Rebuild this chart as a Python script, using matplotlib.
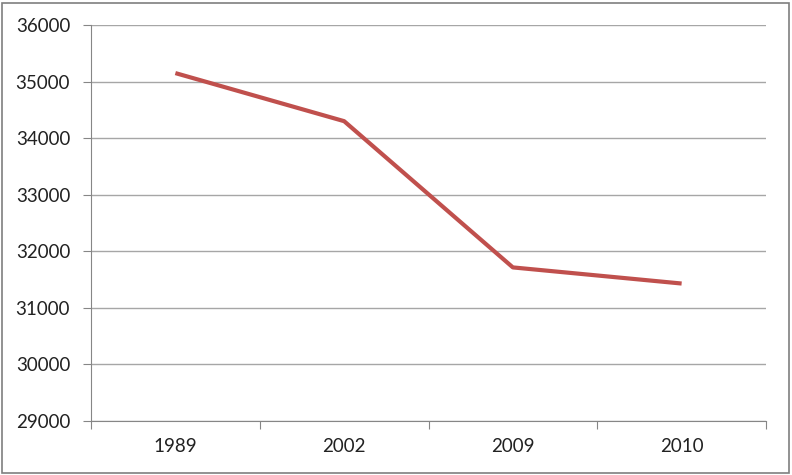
import matplotlib
matplotlib.use("Agg")
import matplotlib.pyplot as plt
import numpy as np
from matplotlib.patches import Rectangle

years = ["1989", "2002", "2009", "2010"]
values = [35150, 34300, 31715, 31430]

plt.rcParams['font.family'] = ['Lato', 'DejaVu Sans']

fig = plt.figure(figsize=(7.92, 4.75), dpi=100)
ax = fig.add_axes([91/792, 1 - 421/475, (766-91)/792, (421-25)/475])

x = np.arange(len(years))
ax.plot(x, values, color='#C0504D', linewidth=3, solid_capstyle='butt', zorder=3)

ax.set_xlim(-0.5, len(years) - 0.5)
ax.set_ylim(29000, 36000)
ax.set_yticks(np.arange(29000, 36001, 1000))
ax.yaxis.grid(True, color='#A6A6A6', linewidth=1)
ax.set_axisbelow(True)

# category labels centred, ticks between categories like a spreadsheet chart
ax.set_xticks(np.arange(-0.5, len(years)), minor=False)
ax.set_xticklabels([])
ax.set_xticks(x, minor=True)
ax.set_xticklabels(years, minor=True)
ax.tick_params(axis='x', which='major', length=6, color='#868686')
ax.tick_params(axis='x', which='minor', length=0, pad=12)
ax.tick_params(axis='y', length=6, color='#868686', pad=9)
ax.tick_params(which='both', labelsize=13.5, labelcolor='#222222')

ax.spines["top"].set_visible(False)
ax.spines["right"].set_visible(False)
ax.spines["left"].set_color('#868686')
ax.spines["bottom"].set_color('#868686')

fig.patches.append(Rectangle((2/792, 2/475), 787/792, 470/475, transform=fig.transFigure,
                             fill=False, edgecolor='#7F7F7F', linewidth=1.2))

fig.savefig("out.png", dpi=100)
